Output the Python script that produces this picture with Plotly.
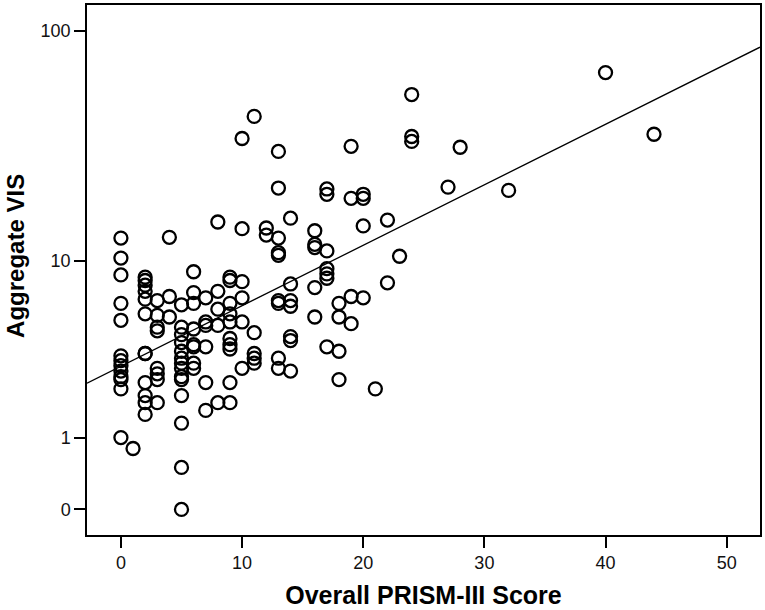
import numpy as np
import plotly.graph_objects as go

# Overall PRISM-III score for each patient (grouped by score)
prism = ([0] * 13 + [1] + [2] * 12 + [3] * 8 + [4] * 3 + [5] * 14 + [6] * 8
         + [7] * 6 + [8] * 5 + [9] * 10 + [10] * 6 + [11] * 5 + [12] * 2
         + [13] * 9 + [14] * 7 + [16] * 5 + [17] * 7 + [18] * 4 + [19] * 4
         + [20] * 4 + [21] + [22] * 2 + [23] + [24] * 3 + [27] + [28] + [32]
         + [40] + [44])

# Aggregate VIS, same order as prism
vis = [
    12.7, 10.3, 8.6, 6.3, 5.2, 3.4, 3.2, 3.0, 2.8, 2.6, 2.5, 2.2, 1.0,   # 0
    0.8,                                                                 # 1
    8.4, 8.1, 7.7, 7.2, 6.6, 5.6, 3.5, 3.5, 2.4, 2.0, 1.8, 1.5,          # 2
    6.5, 5.5, 4.8, 4.6, 2.9, 2.7, 2.5, 1.8,                              # 3
    12.8, 6.8, 5.4,                                                      # 4
    6.2, 4.8, 4.4, 4.0, 3.6, 3.3, 3.1, 2.9, 2.6, 2.5, 2.0, 1.3, 0.5, 0.0,  # 5
    8.9, 7.1, 6.3, 4.7, 3.9, 3.8, 3.1, 2.9,                              # 6
    6.7, 5.1, 4.9, 3.8, 2.4, 1.6,                                        # 7
    15.0, 7.2, 5.9, 4.9, 1.8,                                            # 8
    8.4, 8.1, 6.3, 5.6, 5.1, 4.2, 3.9, 3.7, 2.4, 1.8,                    # 9
    34.8, 14.0, 8.0, 6.7, 5.1, 2.9,                                      # 10
    43.3, 4.5, 3.5, 3.3, 3.1,                                            # 11
    14.1, 13.1,                                                          # 12
    30.6, 21.2, 12.7, 10.9, 10.6, 6.5, 6.3, 3.3, 2.9,                    # 13
    15.6, 7.8, 6.5, 6.1, 4.3, 4.1, 2.8,                                  # 14
    13.7, 11.9, 11.5, 7.5, 5.4,                                          # 16
    21.0, 19.9, 11.1, 9.2, 8.7, 8.3, 3.8,                                # 17
    6.3, 5.4, 3.6, 2.5,                                                  # 18
    32.2, 19.1, 6.8, 5.0,                                                # 19
    19.9, 19.1, 14.4, 6.7,                                               # 20
    2.2,                                                                 # 21
    15.3, 7.9,                                                           # 22
    10.5,                                                                # 23
    53.7, 35.5, 33.8,                                                    # 24
    21.4, 31.9, 20.7, 66.6, 36.3,                                        # 27, 28, 32, 40, 44
]

y_ticks = [0, 1, 10, 100]
x_ticks = [0, 10, 20, 30, 40, 50]

x = np.array(prism, dtype=float)
y = np.log10(np.array(vis) + 1)          # axis is log(VIS + 1)

# linear fit line across the whole x range
slope, intercept = np.polyfit(x, y, 1)
x_line = np.array([-2.8, 52.75])
y_line = intercept + slope * x_line

fig = go.Figure()
fig.add_trace(go.Scatter(x=x_line, y=y_line, mode="lines",
                         line=dict(color="black", width=1.3),
                         hoverinfo="skip", showlegend=False))
fig.add_trace(go.Scatter(x=x, y=y, mode="markers",
                         marker=dict(symbol="circle-open", size=13,
                                     color="black", line=dict(width=2.3)),
                         showlegend=False))

fig.update_layout(
    width=765, height=610,
    margin=dict(l=87, r=5, t=3, b=75),
    plot_bgcolor="white", paper_bgcolor="white",
    font=dict(family="Liberation Sans, Arial, sans-serif", color="black"),
)
fig.update_xaxes(
    range=[-2.8, 52.75], tickvals=x_ticks,
    showgrid=False, zeroline=False,
    showline=True, mirror=True, linecolor="black", linewidth=1.5,
    ticks="outside", ticklen=11, tickwidth=1.5, tickcolor="black",
    tickfont=dict(size=18, color="#111"),
    title=dict(text="<b>Overall PRISM-III Score</b>", font=dict(size=25),
               standoff=14),
)
fig.update_yaxes(
    range=[-0.107, 2.113],
    tickvals=np.log10(np.array(y_ticks) + 1), ticktext=[str(t) for t in y_ticks],
    showgrid=False, zeroline=False,
    showline=True, mirror=True, linecolor="black", linewidth=1.5,
    ticks="outside", ticklen=11, tickwidth=1.5, tickcolor="black",
    tickfont=dict(size=18, color="#111"),
)
# y title sits a little above the middle of the axis in the original
fig.add_annotation(text="<b>Aggregate VIS</b>", textangle=-90,
                   xref="paper", yref="paper", x=-0.106, y=0.526,
                   xanchor="center", yanchor="middle", showarrow=False,
                   font=dict(size=24))

fig.write_html("out.html", config={"displayModeBar": False},
               post_script="document.body.style.margin='0';")
